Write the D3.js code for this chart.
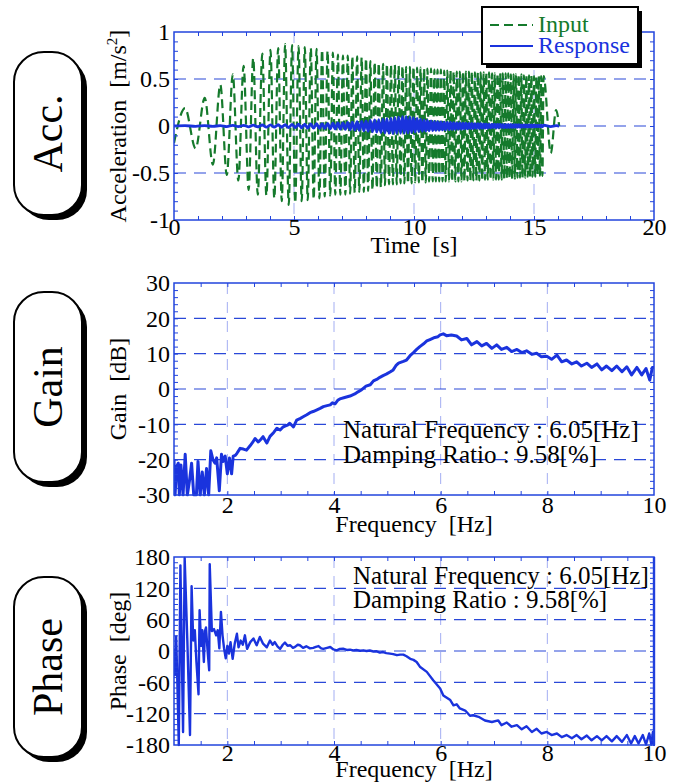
<!DOCTYPE html>
<html>
<head>
<meta charset="utf-8">
<script src="https://cdn.jsdelivr.net/npm/d3@7"></script>
<style>
  body { margin: 0; background: #fff; }
  svg text { font-family: "Liberation Serif", "Times New Roman", serif; fill: #000; white-space: pre; }
</style>
</head>
<body>
<div id="chart"></div>
<script>
// ---- data ----
// acceleration: times of the swing extremes [s]
const accTime = [
  0, 0.46, 0.9, 1.28, 1.62, 1.93, 2.2, 2.45, 2.68, 2.9,
  3.11, 3.3, 3.49, 3.68, 3.85, 4.02, 4.18, 4.34, 4.49, 4.63,
  4.78, 4.92, 5.05, 5.19, 5.32, 5.45, 5.57, 5.70, 5.82, 5.94,
  6.06, 6.17, 6.28, 6.40, 6.51, 6.62, 6.72, 6.83, 6.93, 7.04,
  7.14, 7.24, 7.34, 7.43, 7.53, 7.63, 7.72, 7.82, 7.91, 8.00,
  8.09, 8.18, 8.27, 8.36, 8.45, 8.53, 8.62, 8.71, 8.79, 8.87,
  8.96, 9.04, 9.12, 9.20, 9.28, 9.36, 9.44, 9.52, 9.60, 9.67,
  9.75, 9.83, 9.90, 9.98, 10.05, 10.13, 10.20, 10.27, 10.35, 10.42,
  10.49, 10.56, 10.63, 10.71, 10.78, 10.85, 10.91, 10.98, 11.05, 11.12,
  11.19, 11.26, 11.32, 11.39, 11.46, 11.52, 11.59, 11.65, 11.72, 11.78,
  11.85, 11.91, 11.98, 12.04, 12.10, 12.16, 12.23, 12.29, 12.35, 12.41,
  12.47, 12.54, 12.60, 12.66, 12.72, 12.78, 12.84, 12.90, 12.96, 13.01,
  13.07, 13.13, 13.19, 13.25, 13.31, 13.36, 13.42, 13.48, 13.53, 13.59,
  13.65, 13.70, 13.76, 13.82, 13.87, 13.93, 13.98, 14.04, 14.09, 14.15,
  14.20, 14.25, 14.31, 14.36, 14.42, 14.47, 14.52, 14.58, 14.63, 14.68,
  14.74, 14.79, 14.84, 14.89, 14.94, 15.00, 15.05, 15.10, 15.15, 15.20,
  15.25, 15.30, 15.35, 15.40, 15.70, 15.92, 16.05
];
// input acceleration at those times [m/s2]
const inputAcc = [
  -0.18, 0.19, -0.24, 0.30, -0.41, 0.44, -0.52, 0.55, -0.58, 0.64,
  -0.68, 0.72, -0.73, 0.77, -0.74, 0.81, -0.77, 0.83, -0.80, 0.87,
  -0.84, 0.86, -0.82, 0.85, -0.80, 0.84, -0.79, 0.83, -0.78, 0.82,
  -0.77, 0.81, -0.75, 0.80, -0.74, 0.78, -0.73, 0.76, -0.73, 0.75,
  -0.73, 0.75, -0.72, 0.74, -0.71, 0.74, -0.70, 0.73, -0.70, 0.72,
  -0.69, 0.69, -0.68, 0.68, -0.66, 0.67, -0.65, 0.66, -0.63, 0.66,
  -0.62, 0.65, -0.62, 0.65, -0.62, 0.64, -0.61, 0.64, -0.61, 0.63,
  -0.61, 0.63, -0.61, 0.63, -0.60, 0.62, -0.60, 0.62, -0.60, 0.61,
  -0.60, 0.61, -0.59, 0.61, -0.59, 0.60, -0.59, 0.60, -0.59, 0.60,
  -0.59, 0.59, -0.59, 0.59, -0.59, 0.59, -0.59, 0.58, -0.59, 0.58,
  -0.59, 0.58, -0.59, 0.58, -0.59, 0.58, -0.58, 0.58, -0.58, 0.58,
  -0.58, 0.57, -0.58, 0.57, -0.58, 0.57, -0.58, 0.57, -0.57, 0.57,
  -0.57, 0.57, -0.57, 0.56, -0.57, 0.56, -0.57, 0.56, -0.57, 0.56,
  -0.57, 0.56, -0.56, 0.56, -0.56, 0.56, -0.56, 0.55, -0.56, 0.55,
  -0.56, 0.55, -0.55, 0.55, -0.55, 0.55, -0.55, 0.54, -0.55, 0.54,
  -0.54, 0.54, -0.54, 0.54, -0.54, 0.53, -0.54, 0.53, -0.53, 0.53,
  -0.53, 0.53, -0.53, 0.53, -0.29, 0.17, 0
];
// response acceleration at the same times [m/s2]
const responseAcc = [
  0, 0.004, -0.004, 0.005, -0.005, 0.005, -0.006, 0.007, -0.007, 0.007,
  -0.009, 0.01, -0.01, 0.011, -0.012, 0.013, -0.013, 0.014, -0.014, 0.015,
  -0.016, 0.017, -0.018, 0.019, -0.02, 0.021, -0.022, 0.022, -0.023, 0.024,
  -0.025, 0.026, -0.027, 0.028, -0.029, 0.03, -0.031, 0.032, -0.033, 0.034,
  -0.035, 0.037, -0.039, 0.041, -0.043, 0.045, -0.047, 0.05, -0.052, 0.055,
  -0.057, 0.06, -0.062, 0.065, -0.066, 0.068, -0.07, 0.073, -0.074, 0.077,
  -0.078, 0.082, -0.08, 0.088, -0.078, 0.095, -0.078, 0.1, -0.076, 0.1,
  -0.074, 0.095, -0.07, 0.088, -0.065, 0.08, -0.06, 0.072, -0.057, 0.066,
  -0.054, 0.06, -0.051, 0.055, -0.049, 0.05, -0.047, 0.046, -0.045, 0.043,
  -0.042, 0.041, -0.04, 0.039, -0.038, 0.037, -0.036, 0.035, -0.035, 0.034,
  -0.033, 0.032, -0.032, 0.031, -0.03, 0.03, -0.029, 0.028, -0.028, 0.027,
  -0.027, 0.026, -0.026, 0.025, -0.025, 0.024, -0.024, 0.023, -0.023, 0.022,
  -0.022, 0.021, -0.021, 0.021, -0.02, 0.02, -0.02, 0.019, -0.019, 0.019,
  -0.018, 0.018, -0.018, 0.017, -0.017, 0.017, -0.016, 0.016, -0.016, 0.015,
  -0.015, 0.015, -0.014, 0.014, -0.014, 0.013, -0.013, 0.013, -0.013, 0.012,
  -0.012, 0.012, -0.011, 0.011, -0.011, 0.011, -0.01, 0.01, -0.01, 0.01,
  -0.01, 0.009, -0.009, 0.009, -0.006, 0.003, 0
];

// gain [dB] vs frequency [Hz]
const gainFreq = [
  1.00, 1.02, 1.05, 1.08, 1.10, 1.13, 1.17, 1.21, 1.25, 1.29,
  1.33, 1.37, 1.42, 1.45, 1.49, 1.53, 1.57, 1.61, 1.65, 1.69,
  1.73, 1.77, 1.80, 1.85, 1.89, 1.92, 1.96, 2.00, 2.04, 2.08,
  2.11, 2.15, 2.18, 2.24, 2.30, 2.36, 2.43, 2.47, 2.52, 2.58,
  2.63, 2.67, 2.74, 2.80, 2.87, 2.93, 2.99, 3.04, 3.08, 3.13,
  3.17, 3.24, 3.30, 3.37, 3.43, 3.49, 3.55, 3.62, 3.68, 3.74,
  3.80, 3.87, 3.93, 3.97, 4.02, 4.07, 4.11, 4.20, 4.30, 4.39,
  4.45, 4.52, 4.60, 4.68, 4.74, 4.80, 4.86, 4.92, 4.98, 5.05,
  5.11, 5.16, 5.21, 5.30, 5.36, 5.43, 5.49, 5.55, 5.61, 5.68,
  5.74, 5.80, 5.89, 5.95, 5.99, 6.05, 6.11, 6.20, 6.30, 6.39,
  6.49, 6.58, 6.68, 6.77, 6.86, 6.96, 7.05, 7.14, 7.24, 7.33,
  7.43, 7.52, 7.61, 7.71, 7.80, 7.89, 7.99, 8.08, 8.18, 8.27,
  8.36, 8.46, 8.55, 8.64, 8.74, 8.83, 8.93, 9.02, 9.11, 9.21,
  9.30, 9.40, 9.49, 9.58, 9.68, 9.77, 9.85, 9.92, 9.97, 10.00
];
const gainDb = [
  -20, -30, -22, -21, -30, -21.5, -30, -18.5, -30, -26,
  -21, -30, -30, -20.5, -30, -23.5, -30, -22.5, -30, -17.5,
  -20, -21, -19.5, -28.8, -18.5, -20.5, -19, -24, -19.5, -24,
  -19, -18.8, -18.2, -16.8, -17, -17.3, -16, -15.2, -14, -15,
  -14.2, -13.5, -15.3, -13.4, -12.3, -11.1, -11.6, -10.8, -10.5, -10.2,
  -9.7, -10.7, -8.8, -8.3, -7.8, -7.3, -6.7, -6.3, -5.9, -5.5,
  -5.0, -4.7, -4.5, -3.9, -4.2, -3.2, -2.8, -2.4, -2.0, -1.4,
  -0.8, -0.2, 0.8, 1.2, 2.3, 2.7, 3.3, 3.8, 4.2, 4.8,
  5.4, 6.6, 7.3, 7.8, 8.2, 9.5, 10.3, 11.2, 12.0, 12.8,
  13.6, 14.0, 14.6, 14.8, 15.3, 15.6, 15.1, 15.3, 15.0, 13.9,
  14.3, 12.5, 13.4, 12.2, 12.9, 11.5, 12.5, 11.2, 11.8, 10.6,
  11.2, 10.3, 10.8, 9.8, 10.1, 9.1, 9.3, 8.4, 9.6, 7.7,
  8.2, 7.1, 7.7, 6.5, 7.3, 6.1, 7.1, 5.4, 6.5, 5.2,
  6.5, 4.9, 6.3, 4.0, 6.1, 4.0, 5.8, 2.5, 6.1, 6.1
];

// phase [deg] vs frequency [Hz]
const phaseFreq = [
  1.00, 1.02, 1.04, 1.06, 1.09, 1.12, 1.17, 1.20, 1.25, 1.30,
  1.33, 1.36, 1.39, 1.42, 1.46, 1.48, 1.51, 1.53, 1.56, 1.58,
  1.60, 1.63, 1.66, 1.67, 1.71, 1.75, 1.79, 1.82, 1.85, 1.88,
  1.91, 1.94, 1.97, 2.00, 2.03, 2.06, 2.10, 2.14, 2.18, 2.21,
  2.25, 2.29, 2.33, 2.37, 2.43, 2.49, 2.55, 2.61, 2.67, 2.74,
  2.80, 2.85, 2.89, 2.94, 2.99, 3.04, 3.08, 3.13, 3.18, 3.23,
  3.27, 3.32, 3.36, 3.42, 3.48, 3.55, 3.61, 3.66, 3.71, 3.76,
  3.80, 3.87, 3.93, 3.99, 4.05, 4.11, 4.17, 4.24, 4.30, 4.36,
  4.42, 4.49, 4.55, 4.61, 4.67, 4.74, 4.80, 4.86, 4.92, 4.98,
  5.05, 5.11, 5.18, 5.24, 5.30, 5.36, 5.43, 5.49, 5.55, 5.61,
  5.74, 5.86, 5.99, 6.05, 6.18, 6.24, 6.30, 6.36, 6.46, 6.55,
  6.61, 6.71, 6.83, 6.96, 7.08, 7.14, 7.24, 7.33, 7.43, 7.52,
  7.61, 7.71, 7.80, 7.89, 7.99, 8.08, 8.18, 8.27, 8.36, 8.46,
  8.55, 8.64, 8.74, 8.83, 8.93, 9.02, 9.11, 9.21, 9.30, 9.40,
  9.49, 9.57, 9.64, 9.71, 9.79, 9.85, 9.91, 9.95, 9.98, 10.0,
  10.0
];
const phaseDeg = [
  5, -46, 28, -48, -180, 164, -155, 178, 20, -161,
  124, 20, 40, -20, -83, 78, 10, 40, -21, 38,
  45, 0, -37, 166, 38, 42, 30, 40, 5, 75,
  30, 4, -14, 10, -5, 17, -15, 15, 33, 7,
  20, 12, 30, 4, 17, 24, 11, 27, 14, 7,
  20, 12, 17, 9, 4, 12, 16, 10, 11, 6,
  8, 12, 11, 6, 9, 5, 6, 8, 9.5, 5,
  4, 6, 7.6, 3, 1.3, 4, 4.4, 2, 2.5, 1,
  2, 0.5, 1.3, 0, 1, -1, -0.6, -3, -2, -4,
  -5, -6, -8, -7, -7, -10, -15, -17, -21, -30,
  -40, -56, -72, -85, -94, -104, -102, -110, -114, -124,
  -123, -126, -133, -136, -133, -142, -137, -145, -142, -150,
  -144, -155, -149, -158, -155, -161, -158, -165, -161, -167,
  -161, -169, -162, -171, -163, -171, -163, -173, -163, -174,
  -161, -177, -163, -177, -161, -179, -158, -179, -155, -180,
  180
];

// ticks and texts
const accTicks = [1, 0.5, 0, -0.5, -1];
const timeTicks = [0, 5, 10, 15, 20];
const gainTicks = [30, 20, 10, 0, -10, -20, -30];
const phaseTicks = [180, 120, 60, 0, -60, -120, -180];
const freqTicks = [2, 4, 6, 8, 10];
const legendLabels = ['Input', 'Response'];
const sideLabels = ['Acc.', 'Gain', 'Phase'];
const noteLines = ['Natural Frequency : 6.05[Hz]', 'Damping Ratio : 9.58[%]'];

// ---- drawing ----
const BLUE = '#1a33dd';
const GREEN = '#157a2c';
const FRAME = '#2244dd';
const HGRID = '#2a48d8';
const VGRID = '#a3aef2';
const FONT = 'Liberation Serif, Times New Roman, serif';

const svg = d3.select('#chart').append('svg')
  .attr('width', 681)
  .attr('height', 784);

function makePanel(cfg) {
  const x = d3.scaleLinear().domain(cfg.xDomain).range([cfg.left, cfg.right]);
  const y = d3.scaleLinear().domain(cfg.yDomain).range([cfg.bottom, cfg.top]);
  const g = svg.append('g');

  svg.append('clipPath').attr('id', 'clip-' + cfg.id)
    .append('rect')
    .attr('x', cfg.left).attr('y', cfg.top - 1.5)
    .attr('width', cfg.right - cfg.left + 2).attr('height', cfg.bottom - cfg.top + 3);

  const grid = g.append('g');
  const data = g.append('g').attr('clip-path', `url(#clip-${cfg.id})`);
  const frame = g.append('g');

  // grid lines
  grid.selectAll('line.v').data(cfg.xGrid).join('line')
    .attr('class', 'v')
    .attr('x1', d => x(d)).attr('x2', d => x(d))
    .attr('y1', cfg.top).attr('y2', cfg.bottom)
    .attr('stroke', VGRID).attr('stroke-width', 1)
    .attr('stroke-dasharray', '11,8');
  grid.selectAll('line.h').data(cfg.yGrid).join('line')
    .attr('class', 'h')
    .attr('x1', cfg.left).attr('x2', cfg.right)
    .attr('y1', d => y(d)).attr('y2', d => y(d))
    .attr('stroke', HGRID).attr('stroke-width', 1.2)
    .attr('stroke-dasharray', '12,8');

  // frame + inward minor ticks on all four sides
  frame.append('rect')
    .attr('x', cfg.left).attr('y', cfg.top)
    .attr('width', cfg.right - cfg.left).attr('height', cfg.bottom - cfg.top)
    .attr('fill', 'none').attr('stroke', FRAME).attr('stroke-width', 1.5);

  const minor = (axis, tr) => {
    const a = frame.append('g').attr('transform', tr)
      .call(axis.tickSize(-4).tickFormat(''));
    a.select('.domain').remove();
    a.selectAll('line').attr('stroke', FRAME).attr('stroke-width', 1);
  };
  minor(d3.axisBottom(x).tickValues(cfg.xMinor), `translate(0,${cfg.bottom})`);
  minor(d3.axisTop(x).tickValues(cfg.xMinor), `translate(0,${cfg.top})`);
  minor(d3.axisLeft(y).tickValues(cfg.yMinor), `translate(${cfg.left},0)`);
  minor(d3.axisRight(y).tickValues(cfg.yMinor), `translate(${cfg.right},0)`);

  // tick labels
  const ly = frame.append('g').attr('transform', `translate(${cfg.left},0)`)
    .call(d3.axisLeft(y).tickValues(cfg.yTicks).tickSize(0).tickPadding(4).tickFormat(d => String(d)));
  ly.select('.domain').remove();
  ly.attr('font-size', 24).attr('font-family', FONT);
  ly.selectAll('text').attr('fill', '#000');

  const lx = frame.append('g').attr('transform', `translate(0,${cfg.bottom})`)
    .call(d3.axisBottom(x).tickValues(cfg.xTicks).tickSize(0).tickFormat(d => String(d)));
  lx.select('.domain').remove();
  lx.attr('font-size', 24).attr('font-family', FONT);
  lx.selectAll('text').attr('fill', '#000').attr('dy', null).attr('y', cfg.xTickBase);

  // axis titles
  frame.append('text')
    .attr('x', (cfg.left + cfg.right) / 2).attr('y', cfg.xTitleY)
    .attr('text-anchor', 'middle').attr('font-size', 24)
    .attr('xml:space', 'preserve')
    .text(cfg.xTitle);

  const yt = frame.append('text')
    .attr('transform', `translate(126,${(cfg.top + cfg.bottom) / 2}) rotate(-90)`)
    .attr('text-anchor', 'middle').attr('font-size', 24)
    .attr('xml:space', 'preserve');
  cfg.yTitle(yt);

  return { x, y, data, frame };
}

// side label pills
function sideBox(y0, y1, label) {
  const g = svg.append('g');
  g.append('rect')
    .attr('x', 19).attr('y', y0 + 5).attr('width', 68).attr('height', y1 - y0)
    .attr('rx', 30).attr('ry', 30).attr('fill', '#000');
  g.append('rect')
    .attr('x', 14).attr('y', y0).attr('width', 68).attr('height', y1 - y0)
    .attr('rx', 30).attr('ry', 30)
    .attr('fill', '#fff').attr('stroke', '#000').attr('stroke-width', 2);
  g.append('text')
    .attr('transform', `translate(62,${(y0 + y1) / 2}) rotate(-90)`)
    .attr('text-anchor', 'middle').attr('font-size', 42)
    .text(label);
}
sideBox(52, 215, sideLabels[0]);
sideBox(292, 482, sideLabels[1]);
sideBox(577, 757, sideLabels[2]);

// ---- acceleration panel ----
const acc = makePanel({
  id: 'acc', left: 174, right: 654, top: 32, bottom: 220,
  xDomain: [0, 20], yDomain: [-1, 1],
  xGrid: [5, 10, 15], yGrid: [0.5, 0, -0.5],
  xMinor: d3.range(1, 20, 1), yMinor: d3.range(-0.9, 0.95, 0.1),
  xTicks: timeTicks, yTicks: accTicks, xTickBase: 15,
  xTitle: 'Time  [s]', xTitleY: 253,
  yTitle: t => {
    t.append('tspan').text('Acceleration  [m/s');
    t.append('tspan').attr('font-size', 15).attr('dy', -9).text('2');
    t.append('tspan').attr('dy', 9).text(']');
  }
});
const accLine = series => d3.line()
  .x((d, i) => acc.x(accTime[i]))
  .y(d => acc.y(d))
  .curve(d3.curveMonotoneX)(series);

acc.data.append('path')
  .attr('d', accLine(inputAcc))
  .attr('fill', 'none').attr('stroke', GREEN).attr('stroke-width', 2.2)
  .attr('stroke-dasharray', '9,5');
acc.data.append('path')
  .attr('d', accLine(responseAcc))
  .attr('fill', 'none').attr('stroke', BLUE).attr('stroke-width', 2.8);

// ---- gain panel ----
const gain = makePanel({
  id: 'gain', left: 174, right: 654, top: 283, bottom: 495,
  xDomain: [1, 10], yDomain: [-30, 30],
  xGrid: [2, 4, 6, 8], yGrid: [20, 10, 0, -10, -20],
  xMinor: d3.range(1.5, 10, 0.5), yMinor: d3.range(-28, 30, 2),
  xTicks: freqTicks, yTicks: gainTicks, xTickBase: 18,
  xTitle: 'Frequency  [Hz]', xTitleY: 532,
  yTitle: t => t.text('Gain  [dB]')
});
gain.data.append('path')
  .attr('d', d3.line().x((d, i) => gain.x(gainFreq[i])).y(d => gain.y(d))(gainDb))
  .attr('fill', 'none').attr('stroke', BLUE).attr('stroke-width', 3)
  .attr('stroke-linejoin', 'round');
gain.frame.selectAll('text.note').data(noteLines).join('text')
  .attr('class', 'note')
  .attr('x', 343).attr('y', (d, i) => 438 + i * 25)
  .attr('font-size', 25).attr('xml:space', 'preserve')
  .text(d => d);

// ---- phase panel ----
const phase = makePanel({
  id: 'phase', left: 174, right: 654, top: 557, bottom: 745,
  xDomain: [1, 10], yDomain: [-180, 180],
  xGrid: [2, 4, 6, 8], yGrid: [120, 60, 0, -60, -120],
  xMinor: d3.range(1.5, 10, 0.5), yMinor: d3.range(-170, 180, 10),
  xTicks: freqTicks, yTicks: phaseTicks, xTickBase: 16,
  xTitle: 'Frequency  [Hz]', xTitleY: 777,
  yTitle: t => t.text('Phase  [deg]')
});
phase.data.append('path')
  .attr('d', d3.line().x((d, i) => phase.x(phaseFreq[i])).y(d => phase.y(d))(phaseDeg))
  .attr('fill', 'none').attr('stroke', BLUE).attr('stroke-width', 2.4)
  .attr('stroke-linejoin', 'round');
phase.frame.selectAll('text.note').data(noteLines).join('text')
  .attr('class', 'note')
  .attr('x', 353).attr('y', (d, i) => 584 + i * 24)
  .attr('font-size', 25).attr('xml:space', 'preserve')
  .text(d => d);

// ---- legend ----
const legend = svg.append('g');
legend.append('rect')
  .attr('x', 486).attr('y', 11).attr('width', 156).attr('height', 57)
  .attr('fill', '#000');
legend.append('rect')
  .attr('x', 482).attr('y', 7).attr('width', 156).attr('height', 57)
  .attr('fill', '#fff').attr('stroke', '#000').attr('stroke-width', 2);
const legendStyle = [
  { color: GREEN, dash: '9,5', width: 2 },
  { color: BLUE, dash: null, width: 2 }
];
legendLabels.forEach((lab, i) => {
  const ly = 25 + i * 21;
  legend.append('line')
    .attr('x1', 490).attr('x2', 533).attr('y1', ly).attr('y2', ly)
    .attr('stroke', legendStyle[i].color).attr('stroke-width', legendStyle[i].width)
    .attr('stroke-dasharray', legendStyle[i].dash);
  legend.append('text')
    .attr('x', 538).attr('y', 32 + i * 21)
    .attr('font-size', 24)
    .style('fill', legendStyle[i].color)
    .text(lab);
});
</script>
</body>
</html>
